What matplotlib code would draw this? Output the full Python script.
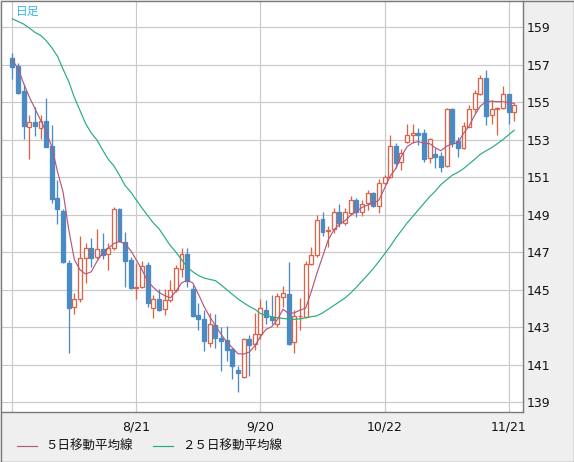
import matplotlib
matplotlib.use("Agg")
import matplotlib.pyplot as plt
from matplotlib.lines import Line2D
from matplotlib.patches import Rectangle

# ── data (USD/JPY daily) ─────────────────────────────────────────────────────
opens = [157.33, 156.94, 155.60, 153.65, 153.92, 153.60, 153.99, 152.67, 149.90, 149.20,
         146.43, 144.05, 144.48, 146.66, 147.20, 146.72, 147.14, 146.88, 147.20, 149.28,
         147.55, 146.57, 145.08, 145.12, 146.31, 144.00, 144.49, 143.94, 144.44, 144.97,
         146.08, 146.89, 145.01, 143.64, 143.41, 142.13, 143.11, 142.43, 142.31, 141.83,
         140.71, 140.35, 142.34, 142.08, 142.61, 143.91, 143.52, 143.14, 144.62, 144.76,
         142.22, 143.57, 143.52, 146.34, 146.84, 148.76, 148.10, 148.21, 149.12, 148.53,
         149.06, 149.77, 149.15, 149.60, 150.13, 149.47, 150.70, 151.02, 152.65, 151.82,
         152.88, 153.22, 153.36, 153.33, 152.00, 152.23, 152.12, 151.59, 154.63, 152.94,
         152.53, 153.68, 154.61, 155.41, 156.26, 154.31, 154.61, 154.66, 155.43, 154.48]
highs = [157.63, 157.10, 155.96, 154.31, 154.72, 154.31, 155.20, 153.77, 150.84, 149.30,
         146.57, 144.80, 147.85, 147.50, 147.73, 148.21, 147.99, 147.46, 149.38, 149.33,
         148.08, 146.75, 146.40, 146.52, 146.48, 144.71, 145.01, 145.01, 145.51, 146.31,
         147.20, 147.20, 145.24, 144.26, 143.91, 143.76, 143.69, 143.02, 143.05, 141.87,
         140.92, 142.40, 142.57, 143.76, 144.48, 144.44, 144.71, 144.83, 145.19, 146.48,
         143.91, 144.53, 146.50, 147.25, 148.97, 149.15, 148.39, 149.36, 149.54, 149.33,
         149.99, 149.86, 149.77, 150.31, 150.22, 150.88, 151.11, 153.24, 152.83, 152.48,
         153.83, 153.83, 153.60, 153.55, 153.06, 152.53, 152.35, 154.66, 154.66, 153.12,
         153.95, 154.84, 155.64, 156.44, 156.71, 155.11, 154.72, 155.85, 155.43, 154.96]
lows = [156.23, 155.43, 153.04, 151.94, 153.20, 153.01, 152.60, 149.60, 148.49, 146.40,
        141.63, 143.68, 144.35, 145.36, 146.22, 146.61, 146.61, 146.04, 147.11, 147.55,
        145.12, 145.01, 144.48, 145.10, 144.05, 143.46, 143.85, 143.64, 144.35, 144.88,
        145.68, 145.12, 143.52, 142.84, 141.74, 141.92, 141.86, 140.67, 141.20, 140.23,
        139.55, 140.28, 140.40, 141.77, 142.39, 143.16, 143.14, 143.02, 144.08, 142.04,
        141.63, 142.84, 143.50, 146.31, 146.75, 147.85, 147.28, 147.99, 148.35, 148.44,
        148.97, 148.85, 148.92, 149.24, 149.40, 149.06, 150.65, 150.93, 151.50, 151.37,
        152.80, 152.80, 152.70, 151.82, 151.76, 151.50, 151.28, 151.52, 152.62, 152.05,
        152.49, 153.65, 154.40, 155.37, 153.77, 153.83, 153.24, 154.61, 153.83, 154.00]
closes = [156.88, 155.50, 153.74, 153.92, 153.74, 153.97, 152.62, 149.83, 149.28, 146.45,
          144.03, 144.49, 146.66, 147.20, 146.66, 147.14, 146.84, 147.20, 149.28, 147.60,
          146.54, 145.10, 145.12, 146.25, 144.30, 144.49, 143.91, 144.44, 144.97, 146.13,
          146.89, 145.45, 143.59, 143.41, 142.27, 143.14, 142.40, 142.27, 141.77, 140.92,
          140.56, 142.34, 142.04, 142.61, 144.00, 143.52, 143.37, 144.65, 144.80, 142.09,
          143.59, 143.59, 146.36, 146.84, 148.71, 148.08, 148.15, 149.12, 148.53, 149.12,
          149.77, 149.15, 149.54, 150.13, 149.45, 150.70, 150.98, 152.65, 151.76, 152.30,
          153.24, 153.33, 153.26, 151.96, 153.01, 152.08, 151.55, 154.63, 152.83, 152.53,
          153.72, 154.61, 155.46, 156.26, 154.25, 154.61, 154.66, 155.43, 154.48, 154.84]

ma5 = [157.24, 156.80, 156.00, 155.28, 154.66, 154.04, 153.42, 152.62, 151.30, 150.20,
       148.20, 146.60, 146.05, 145.83, 145.95, 146.50, 146.95, 147.20, 147.45, 147.57,
       147.42, 147.08, 146.57, 146.05, 145.45, 145.12, 144.85, 144.68, 144.56, 144.90,
       145.35, 145.50, 145.35, 144.75, 144.10, 143.55, 143.10, 142.62, 142.22, 141.90,
       141.58, 141.56, 141.66, 142.00, 142.50, 142.88, 143.02, 143.40, 143.95, 143.72,
       143.76, 143.90, 144.00, 144.88, 145.86, 146.75, 147.64, 148.17, 148.49, 148.67,
       148.97, 149.15, 149.38, 149.51, 149.60, 149.77, 150.40, 151.05, 151.46, 152.12,
       152.62, 152.83, 152.89, 152.80, 152.78, 152.56, 152.40, 152.65, 152.76, 152.83,
       153.33, 153.72, 154.31, 154.79, 155.02, 155.05, 155.02, 155.02, 154.96, 154.93]

ma25 = [159.44, 159.30, 159.16, 158.95, 158.72, 158.56, 158.28, 157.90, 157.45, 156.75,
        156.10, 155.25, 154.55, 153.85, 153.35, 152.98, 152.45, 151.95, 151.60, 151.10,
        150.55, 150.20, 149.77, 149.35, 148.95, 148.55, 148.25, 147.80, 147.35, 147.00,
        146.60, 146.20, 145.95, 145.75, 145.62, 145.54, 145.48, 145.25, 145.00, 144.75,
        144.50, 144.30, 144.10, 143.95, 143.72, 143.62, 143.55, 143.50, 143.46, 143.43,
        143.41, 143.44, 143.50, 143.55, 143.60, 143.75, 143.95, 144.15, 144.35, 144.55,
        144.82, 145.12, 145.45, 145.78, 146.12, 146.50, 146.90, 147.30, 147.75, 148.15,
        148.55, 148.90, 149.25, 149.60, 149.95, 150.25, 150.60, 150.85, 151.10, 151.25,
        151.45, 151.70, 151.95, 152.22, 152.40, 152.57, 152.78, 153.00, 153.25, 153.50]

date_pos = [0, 22, 44, 66, 88]
date_labels = ["", "8/21", "9/20", "10/22", "11/21"]
price_ticks = [139, 141, 143, 145, 147, 149, 151, 153, 155, 157, 159]

COLOR_UP = "#dc6446"
COLOR_DOWN = "#4b8bc3"
COLOR_MA5 = "#b5577f"
COLOR_MA25 = "#26ad78"
COLOR_GRID = "#cacaca"
COLOR_PANEL = "#efefef"
COLOR_FRAME = "#7a7a7a"
PX = 0.72  # one pixel in points at dpi 100

fig = plt.figure(figsize=(5.74, 4.62), dpi=100, facecolor=COLOR_PANEL)
ax = fig.add_axes([2 / 574, 50 / 462, 521 / 574, 411 / 462])
ax.set_facecolor("white")

n = len(closes)
xs = list(range(n))

# grid
for p in price_ticks:
    ax.axhline(p, color=COLOR_GRID, lw=1.2 * PX, zorder=0)
for d in date_pos:
    ax.axvline(d, color=COLOR_GRID, lw=1.2 * PX, zorder=0)

# candles
for i in xs:
    o, h, l, c = opens[i], highs[i], lows[i], closes[i]
    up = c >= o
    col = COLOR_UP if up else COLOR_DOWN
    ax.vlines(i, l, h, color=col, lw=1.3 * PX, zorder=2)
    body = max(abs(c - o), 0.04)
    ax.bar(i, body, bottom=min(o, c), width=0.7,
           facecolor="white" if up else COLOR_DOWN,
           edgecolor=col, linewidth=1.3 * PX, zorder=3)

# moving averages
ax.plot(xs, ma25, color=COLOR_MA25, lw=0.85, zorder=4)
ax.plot(xs, ma5, color=COLOR_MA5, lw=0.85, zorder=4)

ax.set_xlim(-1.83, 90.55)
ax.set_ylim(138.47, 160.39)

ax.yaxis.tick_right()
ax.set_yticks(price_ticks)
ax.set_yticklabels([str(p) for p in price_ticks])
ax.set_xticks(date_pos)
ax.set_xticklabels(date_labels)
ax.tick_params(axis="y", length=0, pad=3, labelsize=9, labelcolor="#111111")
ax.tick_params(axis="x", length=0, pad=6, labelsize=9, labelcolor="#111111")

for side in ["left", "top"]:
    ax.spines[side].set_visible(False)
for side in ["right", "bottom"]:
    ax.spines[side].set_color(COLOR_FRAME)
    ax.spines[side].set_linewidth(1.4 * PX)

# corner label
ax.text(0.027, 0.99, "日足", transform=ax.transAxes, ha="left", va="top",
        fontsize=8.5, color="#3ab6e6", family=["Noto Sans CJK JP", "DejaVu Sans"])

# legend in the bottom panel
jp = ["Noto Sans CJK JP", "DejaVu Sans"]
y_leg = 1 - 446 / 462
fig.add_artist(Line2D([17 / 574, 37 / 574], [y_leg, y_leg], color=COLOR_MA5, lw=0.85))
fig.text(45 / 574, y_leg, "５日移動平均線", ha="left", va="center", fontsize=9,
         color="#111111", family=jp)
fig.add_artist(Line2D([153 / 574, 173 / 574], [y_leg, y_leg], color=COLOR_MA25, lw=0.85))
fig.text(182 / 574, y_leg, "２５日移動平均線", ha="left", va="center", fontsize=9,
         color="#111111", family=jp)

# outer frame
fig.add_artist(Rectangle((0.5 / 574, 0.5 / 462), 573 / 574, 461 / 462,
                         transform=fig.transFigure, fill=False,
                         edgecolor=COLOR_FRAME, lw=1.4 * PX))

fig.savefig("out.png", dpi=100, facecolor=COLOR_PANEL)
